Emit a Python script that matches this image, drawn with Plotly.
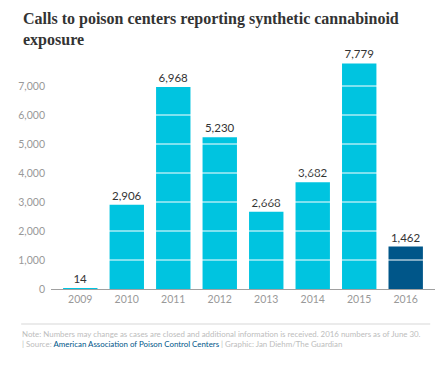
import plotly.graph_objects as go

years = ["2009", "2010", "2011", "2012", "2013", "2014", "2015", "2016"]
calls = [14, 2906, 6968, 5230, 2668, 3682, 7779, 1462]
bar_colors = ["#00c4e0"] * 7 + ["#005689"]
y_ticks = [0, 1000, 2000, 3000, 4000, 5000, 6000, 7000]
grid_levels = [1000, 2000, 3000, 4000, 5000, 6000, 7000]

title_text = "<b>Calls to poison centers reporting synthetic cannabinoid<br>exposure</b>"
note_text = ("Note: Numbers may change as cases are closed and additional information is received. 2016 numbers as of June 30."
             "<br>| Source: <span style='color:#005689'>American Association of Poison Control Centers</span>"
             " | Graphic: Jan Diehm/The Guardian")

# page body has an 8px margin; the figure is sized/positioned to compensate
OFF = 8
W, H = 445 - OFF, 370 - OFF
ML, MR, MT, MB = 36 - OFF, 18 - OFF, 57 - OFF, 81
pw = W - ML - MR
ph = H - MT - MB

def px_x(p):
    return (p - OFF - ML) / pw

def px_y(p):
    return (H - MB - (p - OFF)) / ph

fig = go.Figure()
fig.add_trace(go.Bar(
    x=years, y=calls,
    marker=dict(color=bar_colors, line=dict(width=0)),
    text=[f"{v:,}" for v in calls],
    textposition="outside",
    textfont=dict(family="Lato", size=11.5, color="#333333"),
    cliponaxis=False,
    hoverinfo="skip",
))

shapes = []
for g in grid_levels:
    shapes.append(dict(type="line", xref="paper", yref="y", x0=0, x1=1, y0=g, y1=g,
                       line=dict(color="#ffffff", width=1), layer="above"))
shapes.append(dict(type="line", xref="paper", yref="paper", x0=px_x(5), x1=px_x(430),
                   y0=px_y(324), y1=px_y(324), line=dict(color="#e4e4e4", width=1.5)))

annotations = [
    dict(text=title_text, xref="paper", yref="paper", x=px_x(5), y=px_y(8),
         xanchor="left", yanchor="top", align="left", showarrow=False,
         font=dict(family="Liberation Serif", size=16, color="#333333")),
    dict(text=note_text, xref="paper", yref="paper", x=px_x(4), y=px_y(327),
         xanchor="left", yanchor="top", align="left", showarrow=False,
         font=dict(family="Lato", size=7.9, color="#bdbdbd")),
]

fig.update_layout(
    width=W, height=H,
    margin=dict(l=ML, r=MR, t=MT, b=MB, pad=0),
    paper_bgcolor="white", plot_bgcolor="white",
    showlegend=False,
    bargap=0.26,
    shapes=shapes,
    annotations=annotations,
    font=dict(family="Lato"),
    xaxis=dict(range=[-0.63, 7.63], showline=True, linecolor="#a0a0a0", linewidth=1,
               ticks="", showgrid=False, tickfont=dict(family="Lato", size=10.5, color="#999999"),
               fixedrange=True),
    yaxis=dict(range=[0, 8000], tickvals=y_ticks, tickformat=",", showgrid=False,
               zeroline=False, showline=False, ticks="", ticklabelstandoff=5,
               tickfont=dict(family="Lato", size=10.5, color="#999999"), fixedrange=True),
)
fig.write_html("out.html", config={"displayModeBar": False})
